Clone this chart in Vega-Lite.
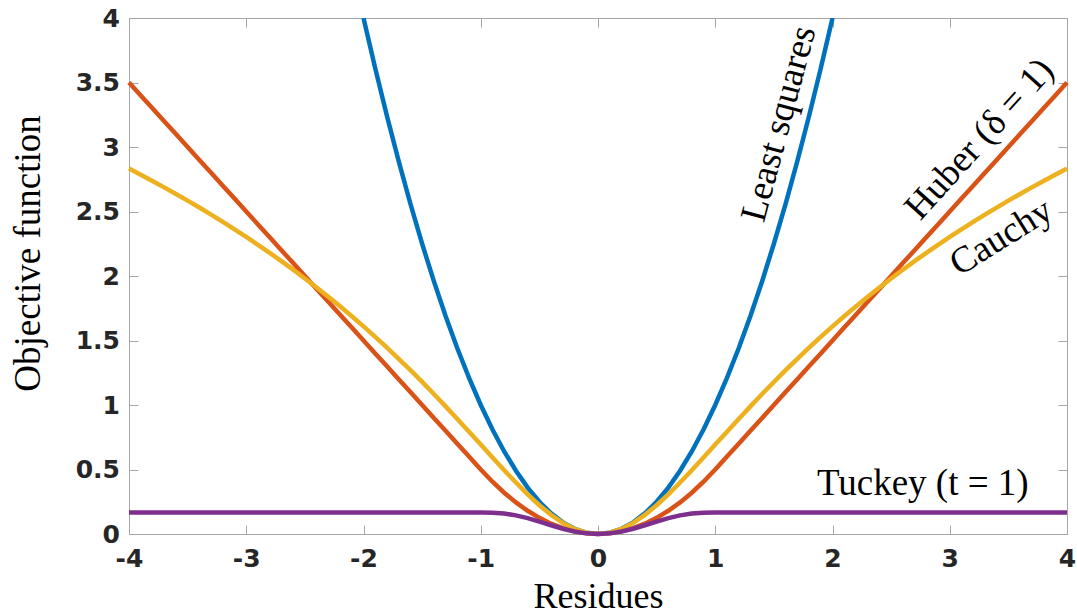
{
  "$schema": "https://vega.github.io/schema/vega-lite/v6.json",
  "autosize": {"type": "none"},
  "padding": {"left": 129, "top": 18, "right": 10, "bottom": 81},
  "width": 938,
  "height": 516,
  "background": "white",
  "config": {
    "view": {"stroke": null},
    "axis": {
      "grid": false,
      "domainColor": "#a6a6a6",
      "domainWidth": 1,
      "tickColor": "#a6a6a6",
      "tickWidth": 1,
      "tickSize": -9,
      "labelFont": "DejaVu Sans",
      "labelFontWeight": "bold",
      "labelFontSize": 25,
      "labelColor": "#262626",
      "labelFlush": false,
      "labelOverlap": false,
      "labelBound": false,
      "titleFont": "Liberation Serif",
      "titleFontSize": 36,
      "titleFontWeight": "normal",
      "titleColor": "#000000"
    }
  },
  "datasets": {
    "losses": [
      {"residue": -4.0, "huber": 3.5, "cauchy": 2.83321, "tuckey": 0.16667},
      {"residue": -3.9, "huber": 3.4, "cauchy": 2.78563, "tuckey": 0.16667},
      {"residue": -3.8, "huber": 3.3, "cauchy": 2.73696, "tuckey": 0.16667},
      {"residue": -3.7, "huber": 3.2, "cauchy": 2.68717, "tuckey": 0.16667},
      {"residue": -3.6, "huber": 3.1, "cauchy": 2.6362, "tuckey": 0.16667},
      {"residue": -3.5, "huber": 3.0, "cauchy": 2.584, "tuckey": 0.16667},
      {"residue": -3.4, "huber": 2.9, "cauchy": 2.53052, "tuckey": 0.16667},
      {"residue": -3.3, "huber": 2.8, "cauchy": 2.4757, "tuckey": 0.16667},
      {"residue": -3.2, "huber": 2.7, "cauchy": 2.41948, "tuckey": 0.16667},
      {"residue": -3.1, "huber": 2.6, "cauchy": 2.3618, "tuckey": 0.16667},
      {"residue": -3.0, "huber": 2.5, "cauchy": 2.30259, "tuckey": 0.16667},
      {"residue": -2.9, "huber": 2.4, "cauchy": 2.24177, "tuckey": 0.16667},
      {"residue": -2.8, "huber": 2.3, "cauchy": 2.17929, "tuckey": 0.16667},
      {"residue": -2.7, "huber": 2.2, "cauchy": 2.11505, "tuckey": 0.16667},
      {"residue": -2.6, "huber": 2.1, "cauchy": 2.04898, "tuckey": 0.16667},
      {"residue": -2.5, "huber": 2.0, "cauchy": 1.981, "tuckey": 0.16667},
      {"residue": -2.4, "huber": 1.9, "cauchy": 1.91102, "tuckey": 0.16667},
      {"residue": -2.3, "huber": 1.8, "cauchy": 1.83896, "tuckey": 0.16667},
      {"residue": -2.2, "huber": 1.7, "cauchy": 1.76473, "tuckey": 0.16667},
      {"residue": -2.1, "huber": 1.6, "cauchy": 1.68824, "tuckey": 0.16667},
      {"residue": -2.0, "least_squares": 4.0, "huber": 1.5, "cauchy": 1.60944, "tuckey": 0.16667},
      {"residue": -1.9, "least_squares": 3.61, "huber": 1.4, "cauchy": 1.52823, "tuckey": 0.16667},
      {"residue": -1.8, "least_squares": 3.24, "huber": 1.3, "cauchy": 1.44456, "tuckey": 0.16667},
      {"residue": -1.7, "least_squares": 2.89, "huber": 1.2, "cauchy": 1.35841, "tuckey": 0.16667},
      {"residue": -1.6, "least_squares": 2.56, "huber": 1.1, "cauchy": 1.26976, "tuckey": 0.16667},
      {"residue": -1.5, "least_squares": 2.25, "huber": 1.0, "cauchy": 1.17865, "tuckey": 0.16667},
      {"residue": -1.4, "least_squares": 1.96, "huber": 0.9, "cauchy": 1.08519, "tuckey": 0.16667},
      {"residue": -1.3, "least_squares": 1.69, "huber": 0.8, "cauchy": 0.98954, "tuckey": 0.16667},
      {"residue": -1.2, "least_squares": 1.44, "huber": 0.7, "cauchy": 0.892, "tuckey": 0.16667},
      {"residue": -1.1, "least_squares": 1.21, "huber": 0.6, "cauchy": 0.79299, "tuckey": 0.16667},
      {"residue": -1.0, "least_squares": 1.0, "huber": 0.5, "cauchy": 0.69315, "tuckey": 0.16667},
      {"residue": -0.9, "least_squares": 0.81, "huber": 0.405, "cauchy": 0.59333, "tuckey": 0.16552},
      {"residue": -0.8, "least_squares": 0.64, "huber": 0.32, "cauchy": 0.4947, "tuckey": 0.15889},
      {"residue": -0.7, "least_squares": 0.49, "huber": 0.245, "cauchy": 0.39878, "tuckey": 0.14456},
      {"residue": -0.6, "least_squares": 0.36, "huber": 0.18, "cauchy": 0.30748, "tuckey": 0.12298},
      {"residue": -0.5, "least_squares": 0.25, "huber": 0.125, "cauchy": 0.22314, "tuckey": 0.09635},
      {"residue": -0.4, "least_squares": 0.16, "huber": 0.08, "cauchy": 0.14842, "tuckey": 0.06788},
      {"residue": -0.3, "least_squares": 0.09, "huber": 0.045, "cauchy": 0.08618, "tuckey": 0.04107},
      {"residue": -0.2, "least_squares": 0.04, "huber": 0.02, "cauchy": 0.03922, "tuckey": 0.01921},
      {"residue": -0.1, "least_squares": 0.01, "huber": 0.005, "cauchy": 0.00995, "tuckey": 0.00495},
      {"residue": 0.0, "least_squares": 0.0, "huber": 0.0, "cauchy": 0.0, "tuckey": 0.0},
      {"residue": 0.1, "least_squares": 0.01, "huber": 0.005, "cauchy": 0.00995, "tuckey": 0.00495},
      {"residue": 0.2, "least_squares": 0.04, "huber": 0.02, "cauchy": 0.03922, "tuckey": 0.01921},
      {"residue": 0.3, "least_squares": 0.09, "huber": 0.045, "cauchy": 0.08618, "tuckey": 0.04107},
      {"residue": 0.4, "least_squares": 0.16, "huber": 0.08, "cauchy": 0.14842, "tuckey": 0.06788},
      {"residue": 0.5, "least_squares": 0.25, "huber": 0.125, "cauchy": 0.22314, "tuckey": 0.09635},
      {"residue": 0.6, "least_squares": 0.36, "huber": 0.18, "cauchy": 0.30748, "tuckey": 0.12298},
      {"residue": 0.7, "least_squares": 0.49, "huber": 0.245, "cauchy": 0.39878, "tuckey": 0.14456},
      {"residue": 0.8, "least_squares": 0.64, "huber": 0.32, "cauchy": 0.4947, "tuckey": 0.15889},
      {"residue": 0.9, "least_squares": 0.81, "huber": 0.405, "cauchy": 0.59333, "tuckey": 0.16552},
      {"residue": 1.0, "least_squares": 1.0, "huber": 0.5, "cauchy": 0.69315, "tuckey": 0.16667},
      {"residue": 1.1, "least_squares": 1.21, "huber": 0.6, "cauchy": 0.79299, "tuckey": 0.16667},
      {"residue": 1.2, "least_squares": 1.44, "huber": 0.7, "cauchy": 0.892, "tuckey": 0.16667},
      {"residue": 1.3, "least_squares": 1.69, "huber": 0.8, "cauchy": 0.98954, "tuckey": 0.16667},
      {"residue": 1.4, "least_squares": 1.96, "huber": 0.9, "cauchy": 1.08519, "tuckey": 0.16667},
      {"residue": 1.5, "least_squares": 2.25, "huber": 1.0, "cauchy": 1.17865, "tuckey": 0.16667},
      {"residue": 1.6, "least_squares": 2.56, "huber": 1.1, "cauchy": 1.26976, "tuckey": 0.16667},
      {"residue": 1.7, "least_squares": 2.89, "huber": 1.2, "cauchy": 1.35841, "tuckey": 0.16667},
      {"residue": 1.8, "least_squares": 3.24, "huber": 1.3, "cauchy": 1.44456, "tuckey": 0.16667},
      {"residue": 1.9, "least_squares": 3.61, "huber": 1.4, "cauchy": 1.52823, "tuckey": 0.16667},
      {"residue": 2.0, "least_squares": 4.0, "huber": 1.5, "cauchy": 1.60944, "tuckey": 0.16667},
      {"residue": 2.1, "huber": 1.6, "cauchy": 1.68824, "tuckey": 0.16667},
      {"residue": 2.2, "huber": 1.7, "cauchy": 1.76473, "tuckey": 0.16667},
      {"residue": 2.3, "huber": 1.8, "cauchy": 1.83896, "tuckey": 0.16667},
      {"residue": 2.4, "huber": 1.9, "cauchy": 1.91102, "tuckey": 0.16667},
      {"residue": 2.5, "huber": 2.0, "cauchy": 1.981, "tuckey": 0.16667},
      {"residue": 2.6, "huber": 2.1, "cauchy": 2.04898, "tuckey": 0.16667},
      {"residue": 2.7, "huber": 2.2, "cauchy": 2.11505, "tuckey": 0.16667},
      {"residue": 2.8, "huber": 2.3, "cauchy": 2.17929, "tuckey": 0.16667},
      {"residue": 2.9, "huber": 2.4, "cauchy": 2.24177, "tuckey": 0.16667},
      {"residue": 3.0, "huber": 2.5, "cauchy": 2.30259, "tuckey": 0.16667},
      {"residue": 3.1, "huber": 2.6, "cauchy": 2.3618, "tuckey": 0.16667},
      {"residue": 3.2, "huber": 2.7, "cauchy": 2.41948, "tuckey": 0.16667},
      {"residue": 3.3, "huber": 2.8, "cauchy": 2.4757, "tuckey": 0.16667},
      {"residue": 3.4, "huber": 2.9, "cauchy": 2.53052, "tuckey": 0.16667},
      {"residue": 3.5, "huber": 3.0, "cauchy": 2.584, "tuckey": 0.16667},
      {"residue": 3.6, "huber": 3.1, "cauchy": 2.6362, "tuckey": 0.16667},
      {"residue": 3.7, "huber": 3.2, "cauchy": 2.68717, "tuckey": 0.16667},
      {"residue": 3.8, "huber": 3.3, "cauchy": 2.73696, "tuckey": 0.16667},
      {"residue": 3.9, "huber": 3.4, "cauchy": 2.78563, "tuckey": 0.16667},
      {"residue": 4.0, "huber": 3.5, "cauchy": 2.83321, "tuckey": 0.16667}
    ],
    "labels": [
      {"name": "Least squares", "residue": 1.545, "value": 3.18},
      {"name": "Huber (δ = 1)", "residue": 3.255, "value": 3.06},
      {"name": "Cauchy", "residue": 3.44, "value": 2.3},
      {"name": "Tuckey (t = 1)", "residue": 2.77, "value": 0.299}
    ]
  },
  "resolve": {"axis": {"x": "independent", "y": "independent"}},
  "layer": [
    {
      "data": {"name": "losses"},
      "transform": [{"filter": "isValid(datum.least_squares)"}],
      "mark": {"type": "line", "color": "#0072BD", "strokeWidth": 4.5, "clip": true},
      "encoding": {
        "x": {
          "field": "residue", "type": "quantitative",
          "scale": {"domain": [-4, 4], "nice": false, "zero": false},
          "axis": {"orient": "bottom", "title": "Residues", "values": [-4, -3, -2, -1, 0, 1, 2, 3, 4],
                   "labelExpr": "'' + datum.value", "labelPadding": 21,
                   "titleBaseline": "alphabetic", "titleY": 73}
        },
        "y": {
          "field": "least_squares", "type": "quantitative",
          "scale": {"domain": [0, 4], "nice": false, "zero": false},
          "axis": {"orient": "left", "title": "Objective function",
                   "values": [0, 0.5, 1, 1.5, 2, 2.5, 3, 3.5, 4],
                   "labelExpr": "'' + datum.value", "labelPadding": 18.5,
                   "titleBaseline": "alphabetic", "titleAngle": -90, "titleAlign": "center",
                   "titleFontSize": 37, "titleX": -90, "titleY": 235}
        }
      }
    },
    {
      "data": {"name": "losses"},
      "mark": {"type": "line", "color": "#D95319", "strokeWidth": 4.5},
      "encoding": {
        "x": {"field": "residue", "type": "quantitative", "axis": null},
        "y": {"field": "huber", "type": "quantitative", "axis": null}
      }
    },
    {
      "data": {"name": "losses"},
      "mark": {"type": "line", "color": "#EDB120", "strokeWidth": 4.5},
      "encoding": {
        "x": {"field": "residue", "type": "quantitative", "axis": null},
        "y": {"field": "cauchy", "type": "quantitative", "axis": null}
      }
    },
    {
      "data": {"name": "losses"},
      "mark": {"type": "line", "color": "#7E2F8E", "strokeWidth": 4.5},
      "encoding": {
        "x": {
          "field": "residue", "type": "quantitative",
          "axis": {"orient": "top", "title": null, "labels": false, "values": [-4, -3, -2, -1, 0, 1, 2, 3, 4]}
        },
        "y": {
          "field": "tuckey", "type": "quantitative",
          "axis": {"orient": "right", "title": null, "labels": false, "values": [0, 0.5, 1, 1.5, 2, 2.5, 3, 3.5, 4]}
        }
      }
    },
    {
      "data": {"name": "labels"},
      "transform": [{"filter": "datum.name === 'Least squares'"}],
      "mark": {"type": "text", "font": "Liberation Serif", "fontSize": 37, "color": "#000000",
               "align": "center", "baseline": "middle", "angle": 285},
      "encoding": {
        "x": {"field": "residue", "type": "quantitative", "axis": null},
        "y": {"field": "value", "type": "quantitative", "axis": null},
        "text": {"field": "name"}
      }
    },
    {
      "data": {"name": "labels"},
      "transform": [{"filter": "datum.name === 'Huber (δ = 1)'"}],
      "mark": {"type": "text", "font": "Liberation Serif", "fontSize": 37, "color": "#000000",
               "align": "center", "baseline": "middle", "angle": 312},
      "encoding": {
        "x": {"field": "residue", "type": "quantitative", "axis": null},
        "y": {"field": "value", "type": "quantitative", "axis": null},
        "text": {"field": "name"}
      }
    },
    {
      "data": {"name": "labels"},
      "transform": [{"filter": "datum.name === 'Cauchy'"}],
      "mark": {"type": "text", "font": "Liberation Serif", "fontSize": 37, "color": "#000000",
               "align": "center", "baseline": "middle", "angle": 328},
      "encoding": {
        "x": {"field": "residue", "type": "quantitative", "axis": null},
        "y": {"field": "value", "type": "quantitative", "axis": null},
        "text": {"field": "name"}
      }
    },
    {
      "data": {"name": "labels"},
      "transform": [{"filter": "datum.name === 'Tuckey (t = 1)'"}],
      "mark": {"type": "text", "font": "Liberation Serif", "fontSize": 37, "color": "#000000",
               "align": "center", "baseline": "alphabetic"},
      "encoding": {
        "x": {"field": "residue", "type": "quantitative", "axis": null},
        "y": {"field": "value", "type": "quantitative", "axis": null},
        "text": {"field": "name"}
      }
    }
  ]
}
